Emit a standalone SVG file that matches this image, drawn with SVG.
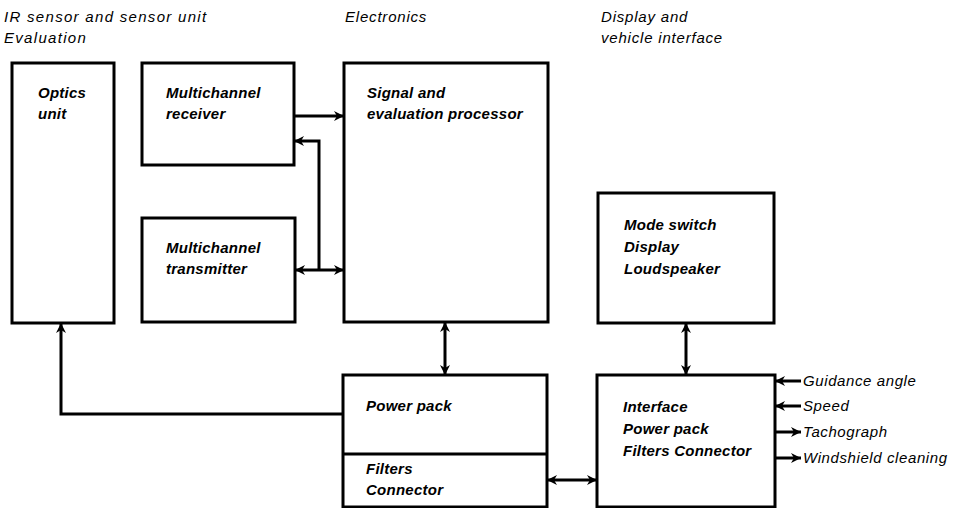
<svg xmlns="http://www.w3.org/2000/svg" width="954" height="508" viewBox="0 0 954 508">
<defs>
<marker id="ah" viewBox="0 0 10 10" refX="10" refY="5" markerWidth="10" markerHeight="10" markerUnits="userSpaceOnUse" orient="auto-start-reverse">
<path d="M0,0 L10,5 L0,10 L3,5 z" fill="#000"/>
</marker>
</defs>
<style>
rect.box{fill:#fff;stroke:#000;stroke-width:3}
.lbl{font-family:"Liberation Sans",Arial,sans-serif;font-style:italic;font-weight:bold;font-size:15px;letter-spacing:0.25px;fill:#000}
.hdr{font-family:"Liberation Sans",Arial,sans-serif;font-style:italic;font-size:15px;letter-spacing:0.8px;fill:#000}
.wide{letter-spacing:1.3px}
.sig{font-family:"Liberation Sans",Arial,sans-serif;font-style:italic;font-size:15px;letter-spacing:0.6px;fill:#000}
.c{fill:none;stroke:#000;stroke-width:3}
</style>
<rect width="954" height="508" fill="#fff"/>
<g id="headers">
<text class="hdr wide" x="4" y="22">IR sensor and sensor unit</text>
<text class="hdr wide" x="4" y="43">Evaluation</text>
<text class="hdr" x="345" y="22">Electronics</text>
<text class="hdr" x="601" y="22">Display and</text>
<text class="hdr" x="601" y="43">vehicle interface</text>
</g>
<g id="optics">
<rect class="box" x="12" y="63" width="102" height="260"/>
<text class="lbl" x="38" y="98">Optics</text>
<text class="lbl" x="38" y="119">unit</text>
</g>
<g id="receiver">
<rect class="box" x="142" y="63" width="152" height="102"/>
<text class="lbl" x="166" y="98">Multichannel</text>
<text class="lbl" x="166" y="119">receiver</text>
</g>
<g id="transmitter">
<rect class="box" x="142" y="218" width="153" height="104"/>
<text class="lbl" x="166" y="253">Multichannel</text>
<text class="lbl" x="166" y="274">transmitter</text>
</g>
<g id="processor">
<rect class="box" x="344" y="63" width="204" height="259"/>
<text class="lbl" x="367" y="98">Signal and</text>
<text class="lbl" x="367" y="119">evaluation processor</text>
</g>
<g id="modeswitch">
<rect class="box" x="598" y="193" width="176" height="130"/>
<text class="lbl" x="624" y="230">Mode switch</text>
<text class="lbl" x="624" y="252">Display</text>
<text class="lbl" x="624" y="274">Loudspeaker</text>
</g>
<g id="powerpack">
<rect class="box" x="343" y="375" width="204" height="132"/>
<line class="c" x1="343" y1="454" x2="547" y2="454"/>
<text class="lbl" x="366" y="411">Power pack</text>
<text class="lbl" x="366" y="474">Filters</text>
<text class="lbl" x="366" y="495">Connector</text>
</g>
<g id="interface">
<rect class="box" x="597" y="375" width="178" height="132"/>
<text class="lbl" x="623" y="412">Interface</text>
<text class="lbl" x="623" y="434">Power pack</text>
<text class="lbl" x="623" y="456">Filters Connector</text>
</g>
<g id="signals">
<text class="sig" x="803" y="386">Guidance angle</text>
<text class="sig" x="803" y="411">Speed</text>
<text class="sig" x="803" y="437">Tachograph</text>
<text class="sig" x="803" y="463">Windshield cleaning</text>
</g>
<g id="connectors">
<line class="c" x1="294" y1="116" x2="344" y2="116" marker-end="url(#ah)"/>
<polyline class="c" points="319,270 319,141 294,141" marker-end="url(#ah)"/>
<line class="c" x1="295" y1="270" x2="344" y2="270" marker-start="url(#ah)" marker-end="url(#ah)"/>
<polyline class="c" points="343,414 61,414 61,323" marker-end="url(#ah)"/>
<line class="c" x1="445" y1="322" x2="445" y2="375" marker-start="url(#ah)" marker-end="url(#ah)"/>
<line class="c" x1="686" y1="323" x2="686" y2="375" marker-start="url(#ah)" marker-end="url(#ah)"/>
<line class="c" x1="547" y1="480" x2="597" y2="480" marker-start="url(#ah)" marker-end="url(#ah)"/>
<line class="c" x1="801" y1="381" x2="775" y2="381" marker-end="url(#ah)"/>
<line class="c" x1="801" y1="406" x2="775" y2="406" marker-end="url(#ah)"/>
<line class="c" x1="775" y1="432" x2="801" y2="432" marker-end="url(#ah)"/>
<line class="c" x1="775" y1="458" x2="801" y2="458" marker-end="url(#ah)"/>
</g>
</svg>
